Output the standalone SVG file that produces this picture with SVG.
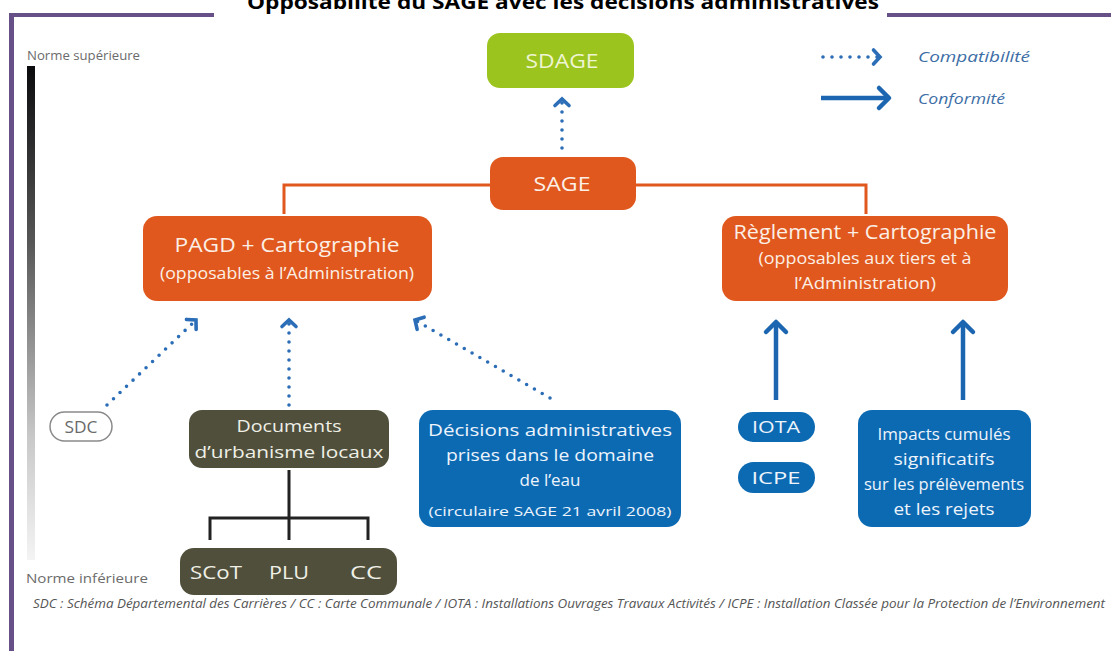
<svg xmlns="http://www.w3.org/2000/svg" width="1111" height="651" viewBox="0 0 1111 651">
<style>
.bt{font-family:"Open Sans","Noto Sans","DejaVu Sans",sans-serif;text-anchor:middle}
.w{fill:#fbefe6}
.lw{fill:#eef4fb}
.gw{fill:#f0f0e6}
.or{fill:#e0581d}
.ol{fill:#4f4f3c}
.bl{fill:#0c6ab3}
.dot{fill:none;stroke:#2b6db6;stroke-width:3.6;stroke-linecap:round;stroke-dasharray:0 9}
.sol{fill:none;stroke:#1c66b1;stroke-width:4.5}
.lab{font-family:"Open Sans","Noto Sans",sans-serif;fill:#6b6b6b;font-size:12.5px}
.leg{font-family:"Open Sans","Noto Sans",sans-serif;fill:#3d6ea6;font-size:15px;font-style:italic}
</style>
<defs>
<linearGradient id="bar" x1="0" y1="0" x2="0" y2="1">
<stop offset="0" stop-color="#0b0b0e"/>
<stop offset="0.35" stop-color="#555"/>
<stop offset="0.75" stop-color="#c8c8c8"/>
<stop offset="1" stop-color="#f4f4f4"/>
</linearGradient>
<marker id="chev" markerUnits="userSpaceOnUse" markerWidth="20" markerHeight="20" refX="0" refY="0" viewBox="-10 -10 20 20" orient="auto" overflow="visible">
<path d="M-6.5,-7 L0,0 L-6.5,7" fill="none" stroke="#2b6db6" stroke-width="3.6" stroke-linecap="round" stroke-linejoin="miter"/>
</marker>
<marker id="arr" markerUnits="userSpaceOnUse" markerWidth="30" markerHeight="30" refX="0" refY="0" viewBox="-15 -15 30 30" orient="auto" overflow="visible">
<path d="M-10,-10 L0,0 L-10,10" fill="none" stroke="#1c66b1" stroke-width="4.5" stroke-linecap="round" stroke-linejoin="round"/>
</marker>
</defs>
<rect width="1111" height="651" fill="#fff"/>
<g id="frame" fill="#674f88">
<rect x="9" y="13" width="5" height="638"/>
<rect x="9" y="13" width="205" height="4"/>
<rect x="887" y="13" width="224" height="4"/>
</g>
<text x="563" y="9" font-family="'Open Sans','Noto Sans','Liberation Sans',sans-serif" font-weight="bold" font-size="19" text-anchor="middle" textLength="632" lengthAdjust="spacingAndGlyphs" fill="#000">Opposabilité du SAGE avec les décisions administratives</text>
<g id="scale">
<text class="lab" x="27" y="60" textLength="113" lengthAdjust="spacingAndGlyphs">Norme supérieure</text>
<rect x="27" y="66" width="8" height="494" fill="url(#bar)"/>
<text class="lab" x="26" y="583" textLength="122" lengthAdjust="spacingAndGlyphs">Norme inférieure</text>
</g>
<g id="legend">
<line class="dot" x1="823" y1="57" x2="880" y2="57" marker-end="url(#chev)"/>
<text class="leg" x="918" y="62" textLength="112" lengthAdjust="spacingAndGlyphs">Compatibilité</text>
<line class="sol" x1="821" y1="98" x2="889" y2="98" marker-end="url(#arr)"/>
<text class="leg" x="918" y="104" textLength="87" lengthAdjust="spacingAndGlyphs">Conformité</text>
</g>
<g id="connectors">
<polyline points="284,214 284,185 866,185 866,214" fill="none" stroke="#e0581d" stroke-width="3"/>
<line class="dot" x1="562" y1="148" x2="562" y2="99" marker-end="url(#chev)"/>
<line class="dot" x1="107" y1="405" x2="196" y2="320" marker-end="url(#chev)"/>
<line class="dot" x1="289" y1="405" x2="289" y2="320" marker-end="url(#chev)"/>
<line class="dot" x1="550" y1="398" x2="415" y2="320" marker-end="url(#chev)"/>
<line class="sol" x1="776" y1="400" x2="776" y2="322" marker-end="url(#arr)"/>
<line class="sol" x1="963" y1="400" x2="963" y2="322" marker-end="url(#arr)"/>
<path d="M289,470 V540 M210,540 V518 H368 V540" fill="none" stroke="#222" stroke-width="3"/>
</g>
<g id="sdage">
<rect x="487" y="33" width="147" height="55" rx="13" fill="#9cc41e"/>
<text class="bt" x="562" y="68" font-size="20" fill="#eef5d2" textLength="73" lengthAdjust="spacingAndGlyphs">SDAGE</text>
</g>
<g id="sage">
<rect x="490" y="157" width="146" height="53" rx="13" class="or"/>
<text class="bt w" x="562" y="191" font-size="20" textLength="57" lengthAdjust="spacingAndGlyphs">SAGE</text>
</g>
<g id="pagd">
<rect x="143" y="216" width="289" height="85" rx="14" class="or"/>
<text class="bt w" x="287" y="252" font-size="20" textLength="225" lengthAdjust="spacingAndGlyphs">PAGD + Cartographie</text>
<text class="bt w" x="287" y="279" font-size="16" textLength="254" lengthAdjust="spacingAndGlyphs">(opposables à l’Administration)</text>
</g>
<g id="reglement">
<rect x="722" y="216" width="286" height="85" rx="14" class="or"/>
<text class="bt w" x="865" y="239" font-size="20" textLength="263" lengthAdjust="spacingAndGlyphs">Règlement + Cartographie</text>
<text class="bt w" x="865" y="264" font-size="16" textLength="213" lengthAdjust="spacingAndGlyphs">(opposables aux tiers et à</text>
<text class="bt w" x="865" y="289" font-size="16" textLength="142" lengthAdjust="spacingAndGlyphs">l’Administration)</text>
</g>
<g id="sdc">
<rect x="50" y="412" width="62" height="29" rx="14.5" fill="#fff" stroke="#8a8a8a" stroke-width="1.5"/>
<text class="bt" x="81" y="433" font-size="16" fill="#6a6a6a" textLength="33" lengthAdjust="spacingAndGlyphs">SDC</text>
</g>
<g id="documents">
<rect x="189" y="410" width="200" height="58" rx="13" class="ol"/>
<text class="bt gw" x="289" y="432" font-size="17" textLength="105" lengthAdjust="spacingAndGlyphs">Documents</text>
<text class="bt gw" x="289" y="458" font-size="17" textLength="189" lengthAdjust="spacingAndGlyphs">d’urbanisme locaux</text>
</g>
<g id="scot">
<rect x="180" y="548" width="217" height="47" rx="14" class="ol"/>
<text class="bt gw" x="216" y="579" font-size="19" textLength="52" lengthAdjust="spacingAndGlyphs">SCoT</text>
<text class="bt gw" x="289" y="579" font-size="19" textLength="40" lengthAdjust="spacingAndGlyphs">PLU</text>
<text class="bt gw" x="366" y="579" font-size="19" textLength="32" lengthAdjust="spacingAndGlyphs">CC</text>
</g>
<g id="decisions">
<rect x="419" y="410" width="262" height="117" rx="14" class="bl"/>
<text class="bt lw" x="550" y="436" font-size="17" textLength="244" lengthAdjust="spacingAndGlyphs">Décisions administratives</text>
<text class="bt lw" x="550" y="461" font-size="17" textLength="208" lengthAdjust="spacingAndGlyphs">prises dans le domaine</text>
<text class="bt lw" x="550" y="486" font-size="17" textLength="61" lengthAdjust="spacingAndGlyphs">de l’eau</text>
<text class="bt lw" x="550" y="516" font-size="13.5" textLength="243" lengthAdjust="spacingAndGlyphs">(circulaire SAGE 21 avril 2008)</text>
</g>
<g id="iota">
<rect x="738" y="412" width="77" height="30" rx="15" class="bl"/>
<text class="bt lw" x="776" y="433" font-size="17" textLength="48" lengthAdjust="spacingAndGlyphs">IOTA</text>
</g>
<g id="icpe">
<rect x="738" y="462" width="77" height="31" rx="15.5" class="bl"/>
<text class="bt lw" x="776" y="484" font-size="17" textLength="49" lengthAdjust="spacingAndGlyphs">ICPE</text>
</g>
<g id="impacts">
<rect x="858" y="410" width="173" height="117" rx="14" class="bl"/>
<text class="bt lw" x="944" y="440" font-size="17" textLength="133" lengthAdjust="spacingAndGlyphs">Impacts cumulés</text>
<text class="bt lw" x="944" y="465" font-size="17" textLength="101" lengthAdjust="spacingAndGlyphs">significatifs</text>
<text class="bt lw" x="944" y="490" font-size="17" textLength="160" lengthAdjust="spacingAndGlyphs">sur les prélèvements</text>
<text class="bt lw" x="944" y="515" font-size="17" textLength="101" lengthAdjust="spacingAndGlyphs">et les rejets</text>
</g>
<text x="33" y="608" font-family="'Open Sans','Noto Sans',sans-serif" font-style="italic" font-size="12" fill="#555" textLength="1072" lengthAdjust="spacingAndGlyphs">SDC : Schéma Départemental des Carrières / CC : Carte Communale / IOTA : Installations Ouvrages Travaux Activités / ICPE : Installation Classée pour la Protection de l’Environnement</text>
</svg>
